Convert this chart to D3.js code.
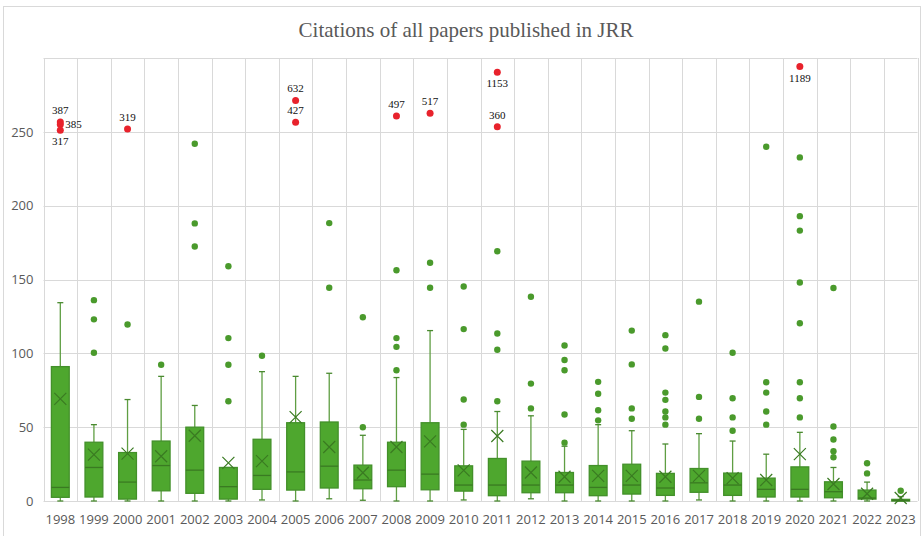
<!DOCTYPE html>
<html>
<head>
<meta charset="utf-8">
<script src="https://cdn.jsdelivr.net/npm/d3@7"></script>
<style>
  body { margin: 0; background: #fff; }
  svg text { font-family: "Segoe UI", "Open Sans", "Noto Sans", sans-serif; }
  svg text.serif { font-family: "Times New Roman", "Liberation Serif", serif; }
</style>
</head>
<body>
<div id="chart"></div>
<script>

// years on the x axis
const years = ["1998","1999","2000","2001","2002","2003","2004","2005","2006","2007","2008","2009","2010",
  "2011","2012","2013","2014","2015","2016","2017","2018","2019","2020","2021","2022","2023"];

// box statistics
const q1 = [2.5,2.7,1.3,6.9,5.2,1.3,7.9,7.4,8.8,8.3,9.7,7.6,6.7,3.6,5.6,5.6,3.6,4.7,3.8,5.9,3.8,2.7,2.7,2.2,1.3,0];
const medians = [9.2,22.7,12.8,24,20.9,9.7,17.3,19.7,23.6,14.2,20.9,18.2,10.8,10.8,10.8,10.8,9.2,10.8,8.8,12.3,10.8,7.9,7.9,6.3,2,0.3];
const q3 = [91,39.8,32.8,40.6,50,22.7,41.8,53,53.5,24.3,39.8,53,23.8,28.8,27,19.3,24,24.9,18.7,22,18.9,15.5,23.1,13,7.4,1.1];
const whiskLow = [0,0,0,0,0,0,0.7,0,1.5,0.5,0,0,0.7,0,1.5,0,0,0,0,0.7,0,0,0,0,0,0];
const whiskHigh = [134.3,51.7,68.7,84.4,64.7,22.7,87.6,84.4,86.5,44.5,83.6,115.4,48.5,60.6,57.7,37.1,51.7,47.6,38.6,45.6,40.6,31.7,46.5,22.7,12.8,3];
const means = [69.2,31.4,32.1,30.3,44.2,25.8,27,56.8,36.6,19.1,36.6,40.4,20.7,44,19.3,16.4,17,17,16.4,17,15.5,14.2,31.7,11.5,4.9,2];

// outliers within the axis range
const outliers = [
  [],
  [136,123,100.4],
  [119.5],
  [92.3],
  [241.9,188,172.3],
  [159,110.3,92.3,67.6],
  [98.4],
  [],
  [188.2,144.4],
  [124.4,49.9],
  [156.3,110.3,104.4,88.5],
  [161.3,144.4],
  [145.3,116.4,68.7,51.7],
  [169.1,113.4,102.4,67.6],
  [138.3,79.5,62.7],
  [105.3,95.5,88.5,58.6,39.5],
  [80.7,72.6,61.5,54.6],
  [115.4,92.5,62.7,55.7],
  [112.3,103.3,73.4,68.5,60.6,56.6,51.7],
  [135,70.5,55.7],
  [100.4,69.6,56.6,47.6],
  [239.9,80.4,73.4,60.6,51.7],
  [232.7,192.9,183.1,148,120.4,80.4,69.6,56.6],
  [144.2,50.5,41.6,33.7,29.6],
  [25.6,18.7],
  [6.9]
];

// extreme papers beyond the axis, drawn in red near the top
const extremeYears = ["1998","1998","1998","2000","2005","2005","2008","2009","2011","2011","2020"];
const extremeCites = [387,385,317,319,632,427,497,517,1153,360,1189];
const extremeShownAt = [256.7,254.9,251.1,252,271.3,256.5,260.8,262.6,290.4,253.4,294.2];

const yTicks = [0,50,100,150,200,250];

// label placement for the red points
const labelSide = {387: "above", 385: "right", 317: "below", 1153: "below", 1189: "below"};

const W = 921, H = 536;
const margin = {top: 58, right: 3.5, bottom: 35, left: 43.5};

const svg = d3.select("#chart").append("svg")
  .attr("width", W).attr("height", H);

// outer frame
svg.append("rect")
  .attr("x", 3.5).attr("y", 6.5)
  .attr("width", W - 4).attr("height", H - 4)
  .attr("fill", "none").attr("stroke", "#d9d9d9");

const x = d3.scaleBand().domain(years)
  .range([margin.left, W - margin.right]);
const y = d3.scaleLinear().domain([0, 300])
  .range([H - margin.bottom, margin.top]);

const grid = svg.append("g").attr("stroke", "#d9d9d9").attr("stroke-width", 1);

// horizontal grid lines
grid.selectAll("line.h").data([...yTicks, 300]).join("line")
  .attr("class", "h")
  .attr("x1", margin.left).attr("x2", W - margin.right)
  .attr("y1", d => Math.round(y(d)) + 0.5).attr("y2", d => Math.round(y(d)) + 0.5);

// vertical grid lines at category edges
grid.selectAll("line.v").data([...years.map(d => x(d)), W - margin.right]).join("line")
  .attr("class", "v")
  .attr("x1", d => Math.round(d) + 0.5).attr("x2", d => Math.round(d) + 0.5)
  .attr("y1", margin.top).attr("y2", y(0));

// y axis labels
svg.append("g").attr("transform", `translate(${margin.left - 10},0)`)
  .call(d3.axisLeft(y).tickValues(yTicks).tickSize(0).tickPadding(0))
  .call(g => g.select(".domain").remove())
  .call(g => g.selectAll("text").attr("fill", "#595959").attr("font-size", 13));

// x axis labels
svg.append("g").attr("transform", `translate(0,${y(0) + 12})`)
  .call(d3.axisBottom(x).tickSize(0).tickPadding(0))
  .call(g => g.select(".domain").remove())
  .call(g => g.selectAll("text").attr("fill", "#595959").attr("font-size", 13).attr("dy", "0.85em"));

// title
svg.append("text")
  .attr("class", "serif")
  .attr("x", 466).attr("y", 37)
  .attr("text-anchor", "middle")
  .attr("font-size", 21)
  .attr("fill", "#595959")
  .text("Citations of all papers published in JRR");

const boxW = x.bandwidth() * 0.53;
const capW = 6;
const boxes = svg.append("g");

years.forEach((yr, i) => {
  const cx = x(yr) + x.bandwidth() / 2;
  const g = boxes.append("g");

  // whiskers
  g.append("line")
    .attr("x1", cx).attr("x2", cx)
    .attr("y1", y(q3[i])).attr("y2", y(whiskHigh[i]))
    .attr("stroke", "#5f9e43").attr("stroke-width", 1.3);
  g.append("line")
    .attr("x1", cx).attr("x2", cx)
    .attr("y1", y(q1[i])).attr("y2", y(whiskLow[i]))
    .attr("stroke", "#5f9e43").attr("stroke-width", 1.3);
  [whiskHigh[i], whiskLow[i]].forEach(v => {
    g.append("line")
      .attr("x1", cx - capW / 2).attr("x2", cx + capW / 2)
      .attr("y1", y(v)).attr("y2", y(v))
      .attr("stroke", "#4a8a30").attr("stroke-width", 1.3);
  });

  // box
  g.append("rect")
    .attr("x", cx - boxW / 2).attr("width", boxW)
    .attr("y", y(q3[i])).attr("height", Math.max(1.5, y(q1[i]) - y(q3[i])))
    .attr("fill", "#4ea72e").attr("stroke", "#43902a").attr("stroke-width", 1.3);

  // median
  g.append("line")
    .attr("x1", cx - boxW / 2).attr("x2", cx + boxW / 2)
    .attr("y1", y(medians[i])).attr("y2", y(medians[i]))
    .attr("stroke", "#3a7a22").attr("stroke-width", 1.3);

  // mean marker
  const m = y(means[i]), s = 6;
  g.append("path")
    .attr("d", `M${cx - s},${m - s}L${cx + s},${m + s}M${cx - s},${m + s}L${cx + s},${m - s}`)
    .attr("stroke", "#3a7a22").attr("stroke-width", 1.2).attr("fill", "none");

  // outliers
  g.selectAll("circle").data(outliers[i]).join("circle")
    .attr("cx", cx).attr("cy", d => y(d)).attr("r", 3.2)
    .attr("fill", "#4a9a2c");
});

// red extremes with their true citation counts
const ext = svg.append("g");
extremeYears.forEach((yr, i) => {
  const cx = x(yr) + x.bandwidth() / 2;
  const cy = y(extremeShownAt[i]);
  ext.append("circle").attr("cx", cx).attr("cy", cy).attr("r", 3.5).attr("fill", "#e8222c");
  const side = labelSide[extremeCites[i]] || "above";
  const t = ext.append("text")
    .attr("class", "serif")
    .attr("font-size", 11).attr("fill", "#111")
    .text(extremeCites[i]);
  if (side === "above") t.attr("x", cx).attr("y", cy - 8).attr("text-anchor", "middle");
  else if (side === "below") t.attr("x", cx).attr("y", cy + 15).attr("text-anchor", "middle");
  else t.attr("x", cx + 5).attr("y", cy + 3);
});

</script>
</body>
</html>
